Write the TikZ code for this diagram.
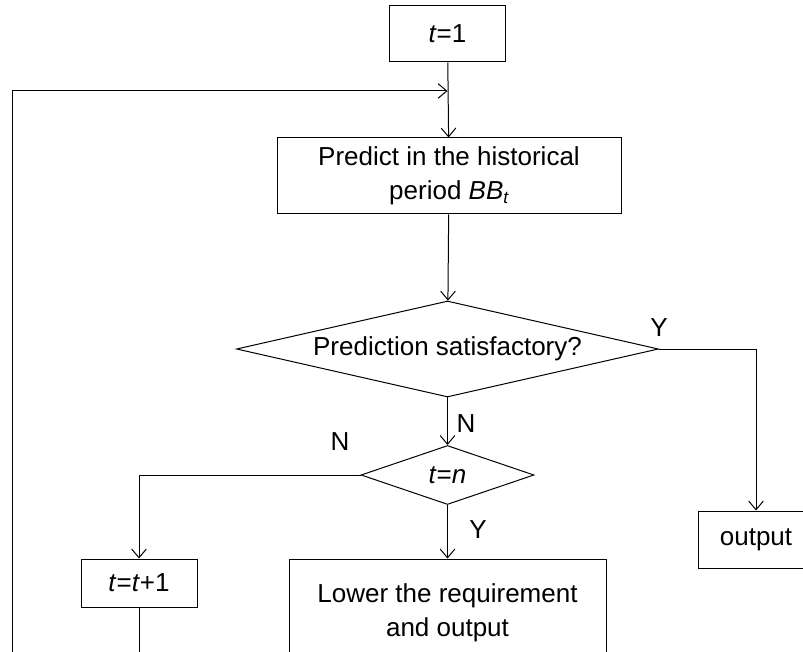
\documentclass[tikz,border=0pt]{standalone}
\usepackage{fontspec}
\setmainfont{Liberation Sans}
\usetikzlibrary{shapes.geometric,arrows.meta}
\begin{document}
\begin{tikzpicture}[x=0.75pt,y=-0.75pt,
  every node/.style={font=\fontsize{19.5}{25.5}\selectfont},
  box/.style={draw, line width=0.75pt, inner sep=0pt, align=center},
  dec/.style={draw, diamond, line width=0.75pt, inner sep=0pt},
  conn/.style={draw, line width=0.75pt, -{Straight Barb[length=6.5pt,width=11pt]}},
  lab/.style={inner sep=0pt}]
\useasboundingbox (0,0) rectangle (803,652);
\clip (0,0) rectangle (803,652);
\node[box, minimum width=87pt, minimum height=42pt] (t1) at (447.5,34) {\textit{t}=1};
\node[box, minimum width=258pt, minimum height=57pt] (pred) at (449,176) {Predict in the historical\\period \textit{BB}\raisebox{-0.25ex}{\fontsize{13}{13}\selectfont\textit{t}}};
\node[dec, aspect=4.4, minimum width=316.5pt, minimum height=72pt] (d1) at (447.5,349) {Prediction satisfactory?};
\node[dec, aspect=2.93, minimum width=129.75pt, minimum height=44.25pt] (d2) at (447.5,475) {\textit{t}=\textit{n}};
\node[box, minimum width=87pt, minimum height=36pt] (tt) at (139,583) {\textit{t}=\textit{t}+1};
\node[box, minimum width=237.75pt, minimum height=81pt] (lower) at (447.5,613) {Lower the requirement\\and output};
\node[box, minimum width=87pt, minimum height=42.75pt] (out) at (756,539.5) {output};
\coordinate (j) at (447.5,91);
\node[lab] (ly1) at (659,328) {Y};
\node[lab] (ln1) at (466,424) {N};
\node[lab] (ln2) at (340,442) {N};
\node[lab] (ly2) at (478,530) {Y};
\draw[conn] (t1) -- (pred);
\draw[conn] (tt.south) -- (139,700) -- (12,700) -- (12,91) -- (j);
\draw[conn] (pred) -- (d1);
\draw[conn] (d1) -- (d2);
\draw[conn] (d1.east) -| (out.north);
\draw[conn] (d2.west) -| (tt.north);
\draw[conn] (d2) -- (lower);
\end{tikzpicture}
\end{document}
